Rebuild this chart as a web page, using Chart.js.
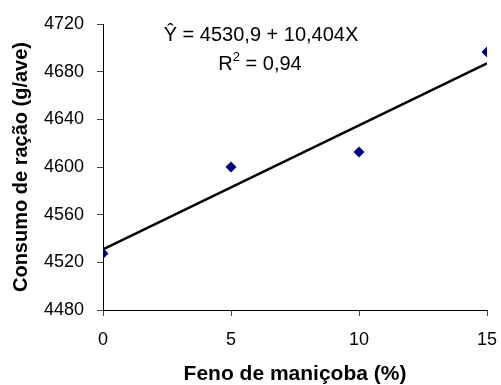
<!DOCTYPE html>
<html>
<head>
<meta charset="utf-8">
<script src="https://cdn.jsdelivr.net/npm/chart.js@4"></script>
<style>
  html, body { margin: 0; padding: 0; background: #fff; }
  #wrap { width: 501px; height: 385px; }
</style>
</head>
<body>
<div id="wrap"><canvas id="chart" width="501" height="385"></canvas></div>
<script>
// data
const hayLevels = [0, 5, 10, 15];
const feedIntake = [4527.5, 4600, 4612.5, 4696.5];
const yTicks = [4480, 4520, 4560, 4600, 4640, 4680, 4720];
const xTicks = [0, 5, 10, 15];

// regression from the printed equation
const intercept = 4530.9;
const slope = 10.404;
const equationText = 'Ŷ = 4530,9 + 10,404X';
const r2Text = ' = 0,94';

const fontFamily = '"Liberation Sans", Arial, sans-serif';

const points = hayLevels.map((x, i) => ({ x: x, y: feedIntake[i] }));
const fitLine = [hayLevels[0], hayLevels[hayLevels.length - 1]].map(x => ({ x: x, y: intercept + slope * x }));

// draws the equation text over the plot, R squared with a raised 2
const equationPlugin = {
    id: 'equation',
    afterDraw(chart) {
        const ctx = chart.ctx;
        ctx.save();
        ctx.fillStyle = '#000';
        ctx.font = '20px ' + fontFamily;
        ctx.textAlign = 'center';
        ctx.textBaseline = 'alphabetic';
        ctx.fillText(equationText, 261, 41);

        ctx.textAlign = 'left';
        const bigFont = '20px ' + fontFamily;
        const smallFont = '13px ' + fontFamily;
        ctx.font = bigFont;
        const wR = ctx.measureText('R').width;
        const wRest = ctx.measureText(r2Text).width;
        ctx.font = smallFont;
        const w2 = ctx.measureText('2').width;
        let x = 260 - (wR + w2 + wRest) / 2;
        ctx.font = bigFont;
        ctx.fillText('R', x, 70);
        x += wR;
        ctx.font = smallFont;
        ctx.fillText('2', x, 61);
        x += w2;
        ctx.font = bigFont;
        ctx.fillText(r2Text, x, 70);
        ctx.restore();
    }
};

new Chart(document.getElementById('chart').getContext('2d'), {
    type: 'scatter',
    data: {
        datasets: [
            {
                label: 'fit',
                type: 'line',
                data: fitLine,
                borderColor: '#000',
                borderWidth: 2.5,
                pointRadius: 0,
                fill: false,
                order: 2
            },
            {
                label: 'obs',
                data: points,
                pointStyle: 'rectRot',
                pointRadius: 5.5,
                backgroundColor: '#000080',
                borderColor: '#000080',
                borderWidth: 0,
                order: 1
            }
        ]
    },
    options: {
        responsive: false,
        animation: false,
        layout: { padding: { left: 0, top: 24, right: 14, bottom: 0 } },
        plugins: { legend: { display: false }, tooltip: { enabled: false } },
        scales: {
            x: {
                type: 'linear',
                min: 0,
                max: 15,
                afterBuildTicks: (scale) => { scale.ticks = xTicks.map(v => ({ value: v })); },
                afterFit: (scale) => { scale.height = 75; scale.paddingRight = 0; scale.paddingLeft = 0; },
                grid: { drawOnChartArea: false, tickLength: 6, color: '#444' },
                border: { color: '#000', width: 1 },
                ticks: { color: '#000', font: { family: fontFamily, size: 18 }, padding: 13, callback: v => String(v) },
                title: {
                    display: true,
                    text: 'Feno de maniçoba (%)',
                    color: '#000',
                    font: { family: fontFamily, size: 21, weight: 'bold', lineHeight: 1 },
                    padding: { top: 0, bottom: 0 }
                }
            },
            y: {
                min: 4480,
                max: 4720,
                afterBuildTicks: (scale) => { scale.ticks = yTicks.map(v => ({ value: v })); },
                afterFit: (scale) => { scale.width = 103; scale.paddingTop = 0; scale.paddingBottom = 0; },
                grid: { drawOnChartArea: false, tickLength: 6, color: '#444' },
                border: { color: '#000', width: 1 },
                ticks: { color: '#000', font: { family: fontFamily, size: 18 }, padding: 13, callback: v => String(v) },
                title: {
                    display: true,
                    text: 'Consumo de ração (g/ave)',
                    color: '#000',
                    font: { family: fontFamily, size: 20, weight: 'bold' },
                    padding: { top: 9, bottom: 0 }
                }
            }
        }
    },
    plugins: [equationPlugin]
});
</script>
</body>
</html>
